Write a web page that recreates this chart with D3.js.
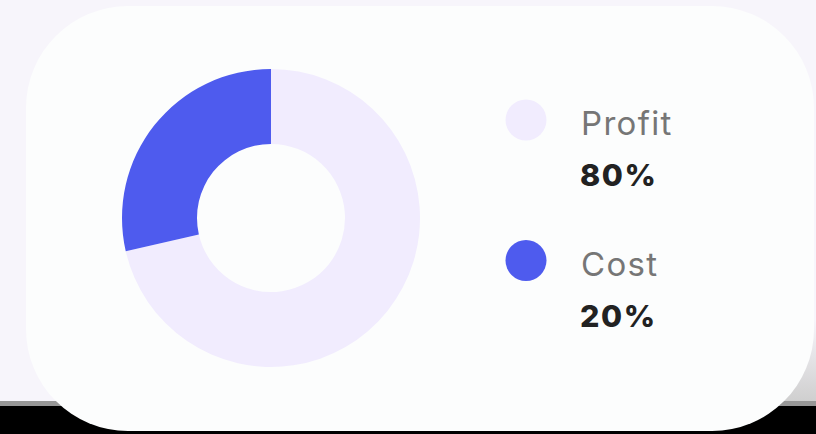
<!DOCTYPE html>
<html>
<head>
<meta charset="utf-8">
<script src="https://cdn.jsdelivr.net/npm/d3@7/dist/d3.min.js"></script>
<style>
  html, body { margin: 0; padding: 0; background: #000; }
  svg { display: block; }
</style>
</head>
<body>
<svg id="chart" width="816" height="434"></svg>
<script>
// ---- data ----
const categories = ["Profit", "Cost"];
const values = [5, 2];              // arc shares as drawn in the picture
const valueLabels = ["80%", "20%"]; // labels as printed in the legend
const colors = ["#f1ecfe", "#4e5bee"];

const W = 816, H = 434;
const svg = d3.select("#chart");

// page background
svg.append("rect").attr("width", W).attr("height", 401).attr("fill", "#f7f5fb");
svg.append("rect").attr("y", 401).attr("width", W).attr("height", 6).attr("fill", "#979797");
svg.append("rect").attr("y", 406).attr("width", W).attr("height", 28).attr("fill", "#000");

// card shadow on right
const defs = svg.append("defs");
const g1 = defs.append("linearGradient").attr("id", "shadow").attr("x1", 0).attr("y1", 0).attr("x2", 0).attr("y2", 1);
g1.append("stop").attr("offset", "0%").attr("stop-color", "#f7f5fb");
g1.append("stop").attr("offset", "100%").attr("stop-color", "#cfcfcf");
svg.append("rect").attr("x", 760).attr("y", 320).attr("width", 56).attr("height", 81).attr("fill", "url(#shadow)");

// card
svg.append("rect")
  .attr("x", 26).attr("y", 6).attr("width", 788).attr("height", 425)
  .attr("rx", 102).attr("ry", 102)
  .attr("fill", "#fcfdfd");

// donut
const cx = 271, cy = 218, rOuter = 149, rInner = 74;
const pie = d3.pie().sort(null).value(d => d.v);
const arc = d3.arc().innerRadius(rInner).outerRadius(rOuter);
const data = categories.map((c, i) => ({ name: c, v: values[i], color: colors[i] }));

svg.append("g")
  .attr("transform", `translate(${cx},${cy})`)
  .selectAll("path")
  .data(pie(data))
  .join("path")
  .attr("d", arc)
  .attr("fill", d => d.data.color);

// legend
const y = d3.scalePoint().domain(categories).range([120, 260.5]);
const leg = svg.append("g").selectAll("g").data(data).join("g")
  .attr("transform", d => `translate(0,${y(d.name)})`);

leg.append("circle")
  .attr("cx", 526).attr("cy", 0).attr("r", 20.5)
  .attr("fill", d => d.color);

leg.append("text")
  .attr("x", 581).attr("y", 15)
  .attr("font-family", "Inter, 'Open Sans', sans-serif")
  .attr("font-size", 33)
  .attr("font-weight", 400)
  .attr("letter-spacing", 1.3)
  .attr("fill", "#767676")
  .text(d => d.name);

leg.append("text")
  .attr("x", 580).attr("y", 66)
  .attr("font-family", "Inter, 'Open Sans', sans-serif")
  .attr("font-size", 30.5)
  .attr("font-weight", 800)
  .attr("letter-spacing", 1.6)
  .attr("fill", "#222222")
  .text((d, i) => valueLabels[i]);
</script>
</body>
</html>
